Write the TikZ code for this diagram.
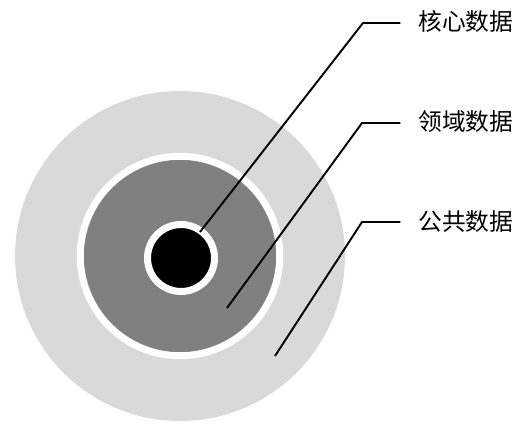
\documentclass[tikz,border=0pt]{standalone}
\usepackage{fontspec}
\newfontfamily\cjk{Noto Sans CJK SC}
\usetikzlibrary{positioning}

\definecolor{pubgray}{RGB}{217,217,217}
\definecolor{domgray}{RGB}{128,128,128}

\begin{document}
\begin{tikzpicture}[x=0.02cm, y=-0.02cm,
  %% Ring styles
  pubring/.style ={circle, fill=pubgray, inner sep=0pt, minimum size=6.6cm},
  domring/.style ={circle, fill=domgray, draw=white, line width=0.14cm,
                   inner sep=0pt, minimum size=3.99cm},
  corering/.style={circle, fill=black, draw=white, line width=0.14cm,
                   inner sep=0pt, minimum size=1.34cm},
  %% Labels and leader lines
  lbl/.style  ={anchor=west, inner sep=0pt, font=\cjk\fontsize{13.5}{16}\selectfont},
  lead/.style ={line width=1.1pt, black}
]
\useasboundingbox (0,0) rectangle (530,425);

%% ── RINGS ─────────────────────────────────────────
\node[pubring]  (pub)  at (180,256) {};
\node[domring]  (dom)  at (180,256) {};
\node[corering] (core) at (181,258) {};

%% ── LABELS ────────────────────────────────────────
\node[lbl] (corelbl) at (418,21)  {核心数据};
\node[lbl] (domlbl)  at (418,122) {领域数据};
\node[lbl] (publbl)  at (418,222) {公共数据};

%% ── LEADER LINES ──────────────────────────────────
\coordinate (coreEnd) at (200,232);
\coordinate (domEnd)  at (227,308);
\coordinate (pubEnd)  at (275,356);

\draw[lead] (coreEnd) -- (363,23)  -- ([xshift=-10]corelbl.west |- 0,23);
\draw[lead] (domEnd)  -- (362,123) -- ([xshift=-10]domlbl.west |- 0,123);
\draw[lead] (pubEnd)  -- (362,222) -- ([xshift=-10]publbl.west |- 0,222);

\end{tikzpicture}
\end{document}
